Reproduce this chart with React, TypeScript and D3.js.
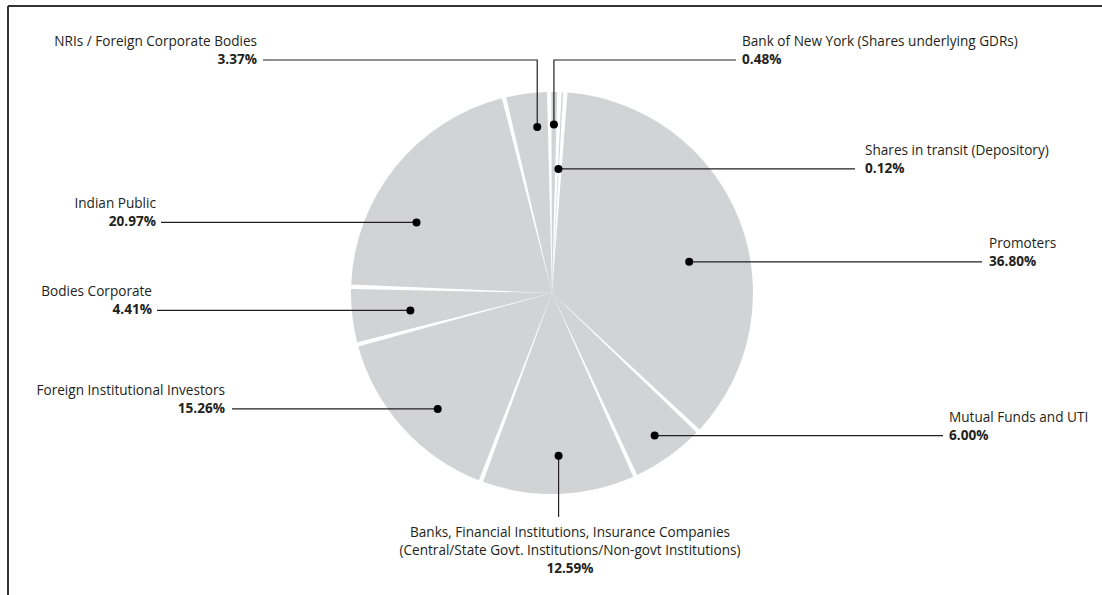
import React from "react";
import * as d3 from "d3";

// Shareholding pattern, in percent of total equity
const categories: string[][] = [
  ["Promoters"],
  ["Mutual Funds and UTI"],
  ["Banks, Financial Institutions, Insurance Companies", "(Central/State Govt. Institutions/Non-govt Institutions)"],
  ["Foreign Institutional Investors"],
  ["Bodies Corporate"],
  ["Indian Public"],
  ["NRIs / Foreign Corporate Bodies"],
  ["Bank of New York (Shares underlying GDRs)"],
  ["Shares in transit (Depository)"],
];
const shares: number[] = [36.8, 6.0, 12.59, 15.26, 4.41, 20.97, 3.37, 0.48, 0.12];

const W = 1102;
const H = 595;
const cx = 552;
const cy = 293;
const R = 201;
const START = (3.8 * Math.PI) / 180;
const PAD = 0.022;

const SLICE = "#d1d3d4";
const INK = "#231f20";
const FONT = "'Open Sans', 'Noto Sans', sans-serif";

type Leader = {
  kind: "left" | "right" | "up-left" | "up-right" | "down";
  t: number; // position of the dot across the slice's angle
  rf: number; // dot radius as a fraction of the pie radius
  lineX?: number;
  textX: number;
  elbowY?: number;
};

// Leader-line layout, one per slice in the same order as the data
const leaders: Leader[] = [
  { kind: "right", t: 0.567, rf: 0.7, lineX: 982, textX: 989 },
  { kind: "right", t: 0.49, rf: 0.874, lineX: 943, textX: 949 },
  { kind: "down", t: 0.49, rf: 0.81, elbowY: 517, textX: 570 },
  { kind: "left", t: 0.437, rf: 0.81, lineX: 232, textX: 225 },
  { kind: "left", t: 0.467, rf: 0.71, lineX: 157, textX: 152 },
  { kind: "left", t: 0.343, rf: 0.76, lineX: 161, textX: 156 },
  { kind: "up-left", t: 0.69, rf: 0.829, elbowY: 60, lineX: 263, textX: 257 },
  { kind: "up-right", t: 0.5, rf: 0.838, elbowY: 60, lineX: 736, textX: 742 },
  { kind: "right", t: 0.5, rf: 0.618, lineX: 855, textX: 865 },
];

const fmt = (v: number) => `${v.toFixed(2)}%`;

export default function App() {
  const pie = d3
    .pie<number>()
    .sort(null)
    .value((d) => d)
    .startAngle(START)
    .endAngle(START + 2 * Math.PI)
    .padAngle(PAD);
  const arcs = pie(shares);
  const arc = d3.arc<d3.PieArcDatum<number>>().innerRadius(0).outerRadius(R);

  return (
    <div style={{ position: "absolute", left: 0, top: 0 }}>
      <svg width={W} height={H} viewBox={`0 0 ${W} ${H}`} style={{ display: "block" }}>
        <rect x={0} y={0} width={W} height={H} fill="#fff" />
        {/* frame */}
        <line x1={8} y1={6} x2={W} y2={6} stroke="#333" strokeWidth={2} />
        <line x1={8} y1={6} x2={8} y2={H} stroke="#333" strokeWidth={2} />

        <g transform={`translate(${cx},${cy})`}>
          {arcs.map((a, i) => (
            <path key={i} d={arc(a) || ""} fill={SLICE} />
          ))}
        </g>

        {arcs.map((a, i) => {
          const L = leaders[i];
          const a0 = a.startAngle + PAD / 2;
          const a1 = a.endAngle - PAD / 2;
          const ang = a0 + L.t * (a1 - a0);
          const r = L.rf * R;
          const dx = cx + Math.sin(ang) * r;
          const dy = cy - Math.cos(ang) * r;
          const lines = categories[i];
          let path = "";
          let nameY = 0;
          let anchor: "start" | "end" | "middle" = "start";
          if (L.kind === "left" || L.kind === "right") {
            path = `M${dx},${dy}H${L.lineX}`;
            nameY = dy - 14;
            anchor = L.kind === "left" ? "end" : "start";
          } else if (L.kind === "up-left" || L.kind === "up-right") {
            path = `M${dx},${dy}V${L.elbowY}H${L.lineX}`;
            nameY = (L.elbowY as number) - 14;
            anchor = L.kind === "up-left" ? "end" : "start";
          } else {
            path = `M${dx},${dy}V${L.elbowY}`;
            nameY = (L.elbowY as number) + 20;
            anchor = "middle";
          }
          return (
            <g key={`l${i}`}>
              <path d={path} fill="none" stroke={INK} strokeWidth={1.2} />
              <circle cx={dx} cy={dy} r={4} fill="#000" />
              <text
                x={L.textX}
                y={nameY}
                textAnchor={anchor}
                fontFamily={FONT}
                fontSize={13.6}
                fill={INK}
              >
                {lines.map((s, j) => (
                  <tspan key={j} x={L.textX} dy={j === 0 ? 0 : 18}>
                    {s}
                  </tspan>
                ))}
                <tspan x={L.textX} dy={18} fontWeight="bold">
                  {fmt(shares[i])}
                </tspan>
              </text>
            </g>
          );
        })}
      </svg>
    </div>
  );
}
